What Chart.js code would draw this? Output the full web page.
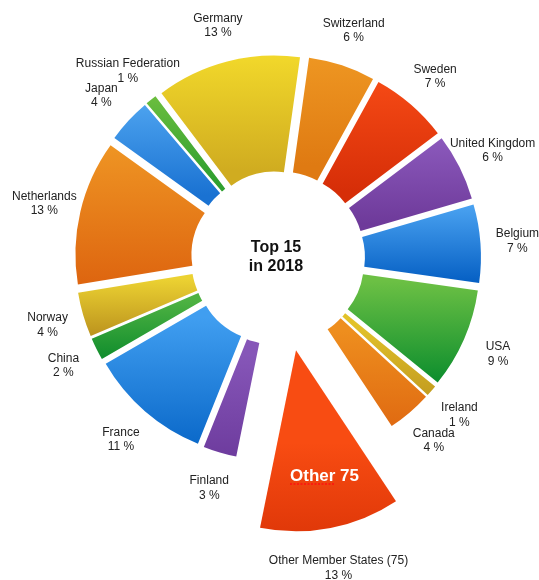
<!DOCTYPE html>
<html>
<head>
<meta charset="utf-8">
<script src="https://cdn.jsdelivr.net/npm/chart.js@4.4.0/dist/chart.umd.min.js"></script>
<style>
  html, body { margin: 0; padding: 0; background: #fff; }
  #wrap { position: relative; width: 539px; height: 580px; }
  #wrap canvas { position: absolute; left: 0; top: 0; }
</style>
</head>
<body>
<div id="wrap">
  <canvas id="ring" width="539" height="580"></canvas>
  <canvas id="other" width="539" height="580"></canvas>
</div>
<script>
// slices, clockwise from just right of 12 o'clock
const countries = ['Switzerland', 'Sweden', 'United Kingdom', 'Belgium', 'USA', 'Ireland', 'Canada',
  'Other Member States (75)', 'Finland', 'France', 'China', 'Norway', 'Netherlands', 'Japan',
  'Russian Federation', 'Germany'];
const shares = [6, 7, 6, 7, 9, 1, 4, 13, 3, 11, 2, 4, 13, 4, 1, 13];
const topColors = ['#f09a24', '#f84c16', '#8e5cbf', '#4ca4f2', '#6cc044', '#e2c22a', '#ee8e1e',
  '#f84c12', '#8656b8', '#409ef0', '#4eb242', '#ecd232', '#ef9624', '#52a8f2', '#74c240', '#f6de2c'];
const bottomColors = ['#df7a12', '#d62e08', '#6e3a9a', '#0660c4', '#068a2c', '#bf981e', '#de6610',
  '#c82400', '#6a389a', '#0664c6', '#08882a', '#b88e1c', '#de6610', '#1a72d2', '#30a030', '#d0ac20'];
const centerTitle = ['Top 15', 'in 2018'];
const otherTag = 'Other 75';

const OTHER = countries.indexOf('Other Member States (75)');
const ROTATION = 8;        // degrees
const OUTER = 187;
const INNER = 71;
const EXPLODE = 16;        // every ring slice pushed out along its bisector
const OTHER_SHIFT = 94;    // the big exploded wedge
const OTHER_RADIUS = 181;
const PAD = {left: 17, right: 0, top: 0, bottom: 64};
const FONT = '"Liberation Sans", Arial, sans-serif';

const total = shares.reduce((a, b) => a + b, 0);

// arc that is drawn shifted outwards along its bisector (exploded slice)
class ExplodedArc extends Chart.ArcElement {
  draw(ctx) {
    const shift = this.options.explode || 0;
    const mid = (this.startAngle + this.endAngle) / 2;
    ctx.save();
    ctx.translate(Math.cos(mid) * shift, Math.sin(mid) * shift);
    super.draw(ctx);
    ctx.restore();
  }
}
ExplodedArc.id = 'explodedArc';
ExplodedArc.defaults = Object.assign({}, Chart.ArcElement.defaults, {explode: 0});
ExplodedArc.defaultRoutes = Chart.ArcElement.defaultRoutes;

class ExplodedDoughnut extends Chart.DoughnutController {}
ExplodedDoughnut.id = 'explodedDoughnut';
ExplodedDoughnut.defaults = Object.assign({}, Chart.DoughnutController.defaults, {dataElementType: 'explodedArc'});
ExplodedDoughnut.overrides = Chart.DoughnutController.overrides;

Chart.register(ExplodedArc, ExplodedDoughnut);

function sliceAngles(i) {
  let a = (ROTATION - 90) * Math.PI / 180;
  for (let k = 0; k < i; k++) a += shares[k] / total * 2 * Math.PI;
  return [a, a + shares[i] / total * 2 * Math.PI];
}

function centerOf(chart) {
  const ca = chart.chartArea;
  return {cx: (ca.left + ca.right) / 2, cy: (ca.top + ca.bottom) / 2};
}

// top-to-bottom gradient over the slice's own height
function sliceGradient(chart, i, shift, r0, r1) {
  const {cx, cy} = centerOf(chart);
  const [a0, a1] = sliceAngles(i);
  const mid = (a0 + a1) / 2;
  const oy = cy + shift * Math.sin(mid);
  let ymin = Infinity, ymax = -Infinity;
  for (let s = 0; s <= 24; s++) {
    const a = a0 + (a1 - a0) * s / 24;
    [r0, r1].forEach(r => {
      const y = oy + r * Math.sin(a);
      ymin = Math.min(ymin, y);
      ymax = Math.max(ymax, y);
    });
  }
  const g = chart.ctx.createLinearGradient(0, ymin, 0, ymax);
  g.addColorStop(0, topColors[i]);
  g.addColorStop(1, bottomColors[i]);
  return g;
}

function ringFill(c) {
  const i = c.dataIndex;
  if (i === OTHER) return 'rgba(0,0,0,0)';
  if (!c.chart.chartArea) return topColors[i];
  return sliceGradient(c.chart, i, EXPLODE, INNER, OUTER);
}

function otherFill(c) {
  const i = c.dataIndex;
  if (i !== OTHER) return 'rgba(0,0,0,0)';
  if (!c.chart.chartArea) return topColors[i];
  return sliceGradient(c.chart, i, OTHER_SHIFT, 0, OTHER_RADIUS);
}

const baseOptions = {
  responsive: false,
  animation: false,
  events: [],
  rotation: ROTATION,
  layout: {padding: PAD},
  plugins: {legend: {display: false}, tooltip: {enabled: false}}
};

new Chart(document.getElementById('ring'), {
  type: 'explodedDoughnut',
  data: {labels: countries, datasets: [{
    data: shares,
    backgroundColor: ringFill,
    borderWidth: 0,
    explode: EXPLODE
  }]},
  options: Object.assign({}, baseOptions, {radius: OUTER, cutout: (INNER / OUTER * 100) + '%'})
});

const textPlugin = {
  id: 'texts',
  afterDraw(chart) {
    const ctx = chart.ctx;
    const {cx, cy} = centerOf(chart);
    const arcs = chart.getDatasetMeta(0).data;
    ctx.save();
    ctx.textAlign = 'center';
    ctx.textBaseline = 'middle';
    ctx.fillStyle = '#222';
    ctx.font = '12px ' + FONT;
    arcs.forEach((arc, i) => {
      const mid = (arc.startAngle + arc.endAngle) / 2;
      const d = i === OTHER ? OTHER_SHIFT + OTHER_RADIUS + 41 : OUTER + EXPLODE + 37;
      const x = cx + d * Math.cos(mid);
      const y = cy + d * Math.sin(mid);
      ctx.fillText(countries[i], x, y - 7);
      ctx.fillText(shares[i] + ' %', x, y + 7.5);
    });

    // centre title
    ctx.fillStyle = '#111';
    ctx.font = 'bold 16px ' + FONT;
    ctx.fillText(centerTitle[0], cx - 2, cy - 10);
    ctx.fillText(centerTitle[1], cx - 2, cy + 9);

    // tag inside the exploded wedge
    const o = arcs[OTHER];
    const om = (o.startAngle + o.endAngle) / 2;
    const tx = cx + (OTHER_SHIFT + 128) * Math.cos(om) + 4;
    const ty = cy + (OTHER_SHIFT + 128) * Math.sin(om);
    ctx.fillStyle = '#ffffff';
    ctx.font = 'bold 17px ' + FONT;
    ctx.fillText(otherTag, tx, ty);
    const fullW = ctx.measureText(otherTag).width;
    const wordW = ctx.measureText(otherTag.split(' ')[0]).width;
    ctx.strokeStyle = '#ff1010';
    ctx.lineWidth = 1.5;
    ctx.setLineDash([2, 1.5]);
    ctx.beginPath();
    ctx.moveTo(tx - fullW / 2, ty + 8);
    ctx.lineTo(tx - fullW / 2 + wordW, ty + 8);
    ctx.stroke();
    ctx.restore();
  }
};

new Chart(document.getElementById('other'), {
  type: 'explodedDoughnut',
  data: {labels: countries, datasets: [{
    data: shares,
    backgroundColor: otherFill,
    borderWidth: 0,
    explode: c => c.dataIndex === OTHER ? OTHER_SHIFT : 0
  }]},
  options: Object.assign({}, baseOptions, {radius: OTHER_RADIUS, cutout: 0}),
  plugins: [textPlugin]
});
</script>
</body>
</html>
